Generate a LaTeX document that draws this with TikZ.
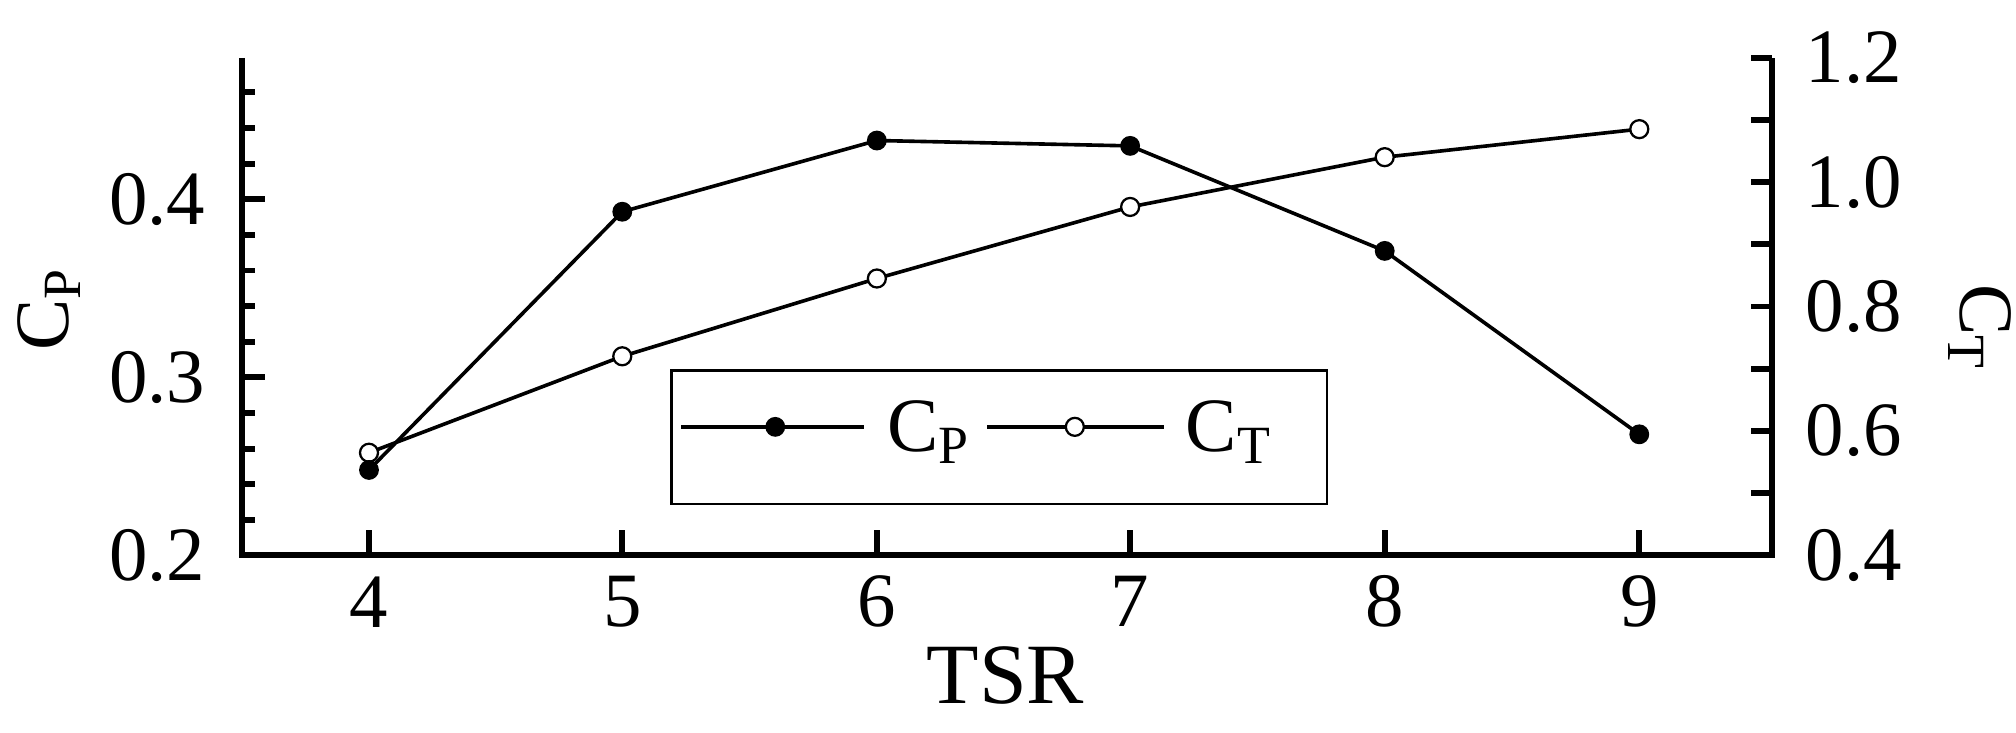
\documentclass[tikz,border=0pt]{standalone}
\usepackage{fontspec}
\setmainfont{Liberation Serif}
\begin{document}
\begin{tikzpicture}[x=0.01cm,y=-0.01cm,
  axis/.style={line width=1.3pt},
  dataline/.style={line width=0.8pt},
  fdot/.style={circle,fill=black,draw=black,inner sep=0pt,minimum size=0.14cm},
  odot/.style={circle,fill=white,draw=black,line width=0.5pt,inner sep=0pt,minimum size=0.14cm},
  lab/.style={font=\fontsize{17}{19}\selectfont}]
\useasboundingbox (0,0) rectangle (1568,570);
\draw[axis] (188,45) -- (188,432) -- (1378,432) -- (1378,45);
% x ticks
\foreach \v/\x in {4/287,5/484,6/682,7/879,8/1077,9/1275}{
  \draw[axis] (\x,432) -- (\x,412);
  \node[lab] (x\v) at (\x,468) {\v};}
% left ticks
\foreach \i in {0,...,13}{\draw[axis] (188,{432-\i*27.7}) -- (198,{432-\i*27.7});}
\foreach \v/\y in {0.2/432,0.3/293.5,0.4/155}{
  \draw[axis] (188,\y) -- (206,\y);
  \node[lab,anchor=east] (l\v) at (172,\y) {\v};}
% right ticks
\foreach \i in {0,...,8}{\draw[axis] (1378,{432-\i*48.4}) -- (1362,{432-\i*48.4});}
\foreach \v/\y in {0.4/432,0.6/335.2,0.8/238.4,1.0/141.6,1.2/44.8}{
  \node[lab,anchor=west] (r\v) at (1392,\y) {\v};}
\node[lab,rotate=90] (cp) at (38,240) {C\textsubscript{P}};
\node[lab,rotate=-90] (ct) at (1540,255) {C\textsubscript{T}};
\node[font=\fontsize{19}{22}\selectfont] (tsr) at (782,525) {TSR};
% Cp
\foreach \n/\x/\v in {1/287/0.248,2/484/0.393,3/682/0.433,4/879/0.430,5/1077/0.371,6/1275/0.268}{
  \coordinate (p\n) at (\x,{432-(\v-0.2)*1385});}
% Ct
\foreach \n/\x/\v in {1/287/0.565,2/484/0.72,3/682/0.845,4/879/0.96,5/1077/1.04,6/1275/1.085}{
  \coordinate (t\n) at (\x,{432-(\v-0.4)*484});}
\draw[dataline] (t1)--(t2)--(t3)--(t4)--(t5)--(t6);
\draw[dataline] (p1)--(p2)--(p3)--(p4)--(p5)--(p6);
\foreach \n in {1,...,6}{\node[odot] at (t\n) {};}
\foreach \n in {1,...,6}{\node[fdot] at (p\n) {};}
% legend
\draw[line width=0.6pt,fill=white] (522,288) rectangle (1032,392);
\coordinate (la) at (530,332); \coordinate (lb) at (672,332);
\draw[dataline] (la) -- (lb); \node[fdot] (lp) at (603,332) {};
\node[lab,anchor=west] (lcp) at (678,336) {C\textsubscript{P}};
\coordinate (lc) at (768,332); \coordinate (ld) at (905,332);
\draw[dataline] (lc) -- (ld); \node[odot] (lt) at (836,332) {};
\node[lab,anchor=west] (lct) at (910,336) {C\textsubscript{T}};
\end{tikzpicture}
\end{document}
